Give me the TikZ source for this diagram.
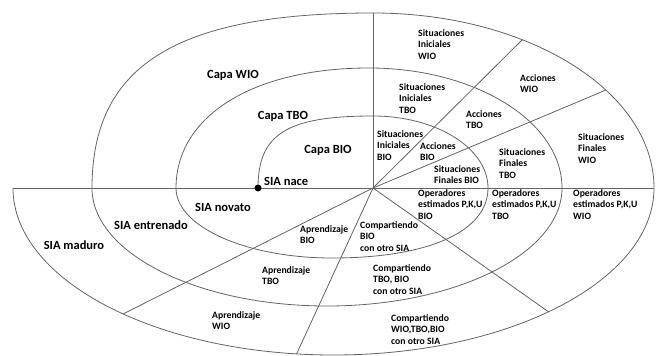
\documentclass[tikz,border=0pt]{standalone}
\usepackage{fontspec}
\setmainfont{Carlito}
\usetikzlibrary{intersections}
\definecolor{linegray}{RGB}{100,100,100}

\begin{document}
\begin{tikzpicture}[x=1pt,y=-1pt,
  ring/.style={draw=linegray, line width=0.8pt},
  ray/.style={draw=linegray, line width=0.8pt},
  big/.style={font=\bfseries\fontsize{12.5}{15}\selectfont, inner sep=0pt},
  small/.style={font=\bfseries\fontsize{9.7}{11.6}\selectfont, align=left, inner sep=0pt, anchor=base west},
]
\useasboundingbox (0,0) rectangle (662,356);

% key points
\coordinate (c)  at (373,188);
\coordinate (hl) at (13,188);
\coordinate (hr) at (654,188);
\coordinate (vt) at (373,13);

% inner turns of the spiral: BIO up, BIO down, TBO up, TBO down
\draw[ring] (258,188)
  .. controls (258,134) and (286.8,116) .. (373,116)
  .. controls (436.5,116) and (488,148.3) .. (488,188)
  .. controls (488,231.4) and (428.7,258) .. (332,258)
  .. controls (245.9,258) and (176,226.6) .. (176,188)
  .. controls (176,116) and (253.2,68) .. (369,68)
  .. controls (475.5,68) and (562,121.8) .. (562,188)
  .. controls (562,253.1) and (456.7,306) .. (327,306)
  .. controls (197.3,306) and (92,253.1) .. (92,188);

% outer turn: WIO up and down
\draw[ring, name path=outer] (92,188)
  .. controls (92,65.5) and (176.3,13) .. (373,13)
  .. controls (528.1,13) and (654,91.4) .. (654,188)
  .. controls (654,280.2) and (510.4,355) .. (333.5,355)
  .. controls (156.6,355) and (13,280.2) .. (13,188);

% axes
\draw[ray] (hl) -- (hr);
\draw[ray] (c) -- (vt);

% radial dividers, ending on the outer turn
\path[name path=r1] (c) -- (671,-108);
\path[name path=r2] (c) -- (839,-8);
\path[name path=r3] (c) -- (733,442);
\path[name path=r4] (c) -- (221,518);
\path[name path=r5] (c) -- (-123,438);
\path[name intersections={of=outer and r1, by=e1}];
\path[name intersections={of=outer and r2, by=e2}];
\path[name intersections={of=outer and r3, by=e3}];
\path[name intersections={of=outer and r4, by=e4}];
\path[name intersections={of=outer and r5, by=e5}];
\draw[ray] (c) -- (e1);
\draw[ray] (c) -- (e2);
\draw[ray] (c) -- (e3);
\draw[ray] (c) -- (e4);
\draw[ray] (c) -- (e5);

% starting point
\node[circle, fill=black, inner sep=0pt, minimum size=7pt] (nace) at (258,188) {};

% layer and stage labels
\node[big] (capawio) at (233,75) {Capa WIO};
\node[big] (capatbo) at (283,116) {Capa TBO};
\node[big] (capabio) at (328,150) {Capa BIO};
\node[big, anchor=west] (sianace) at (264,181) {SIA nace};
\node[big] (novato) at (223,207) {SIA novato};
\node[big] (entrenado) at (151,225) {SIA entrenado};
\node[big] (maduro) at (74,245) {SIA maduro};

% sector labels (placed at the baseline of their last line)
\node[small] (siwio) at (418,59.2) {Situaciones\\Iniciales\\WIO};
\node[small] (acwio) at (520,92.6) {Acciones\\WIO};
\node[small] (sitbo) at (399,113.2) {Situaciones\\Iniciales\\TBO};
\node[small] (actbo) at (466,128.6) {Acciones\\TBO};
\node[small] (sibio) at (377,160.2) {Situaciones\\Iniciales\\BIO};
\node[small] (acbio) at (420,160.6) {Acciones\\BIO};
\node[small] (sfbio) at (434,183.6) {Situaciones\\Finales BIO};
\node[small] (sftbo) at (499,178.2) {Situaciones\\Finales\\TBO};
\node[small] (sfwio) at (578,163.2) {Situaciones\\Finales\\WIO};
\node[small] (opbio) at (418,219.2) {Operadores\\estimados P,K,U\\BIO};
\node[small] (optbo) at (492,219.2) {Operadores\\estimados P,K,U\\TBO};
\node[small] (opwio) at (573,219.2) {Operadores\\estimados P,K,U\\WIO};
\node[small] (apbio) at (300,243.6) {Aprendizaje\\BIO};
\node[small] (aptbo) at (262,284.6) {Aprendizaje\\TBO};
\node[small] (apwio) at (212,329.6) {Aprendizaje\\WIO};
\node[small] (cobio) at (360,251.2) {Compartiendo\\BIO\\con otro SIA};
\node[small] (cotbo) at (373,294.2) {Compartiendo\\TBO, BIO\\con otro SIA};
\node[small] (cowio) at (391,344.2) {Compartiendo\\WIO,TBO,BIO\\con otro SIA};
\end{tikzpicture}
\end{document}
